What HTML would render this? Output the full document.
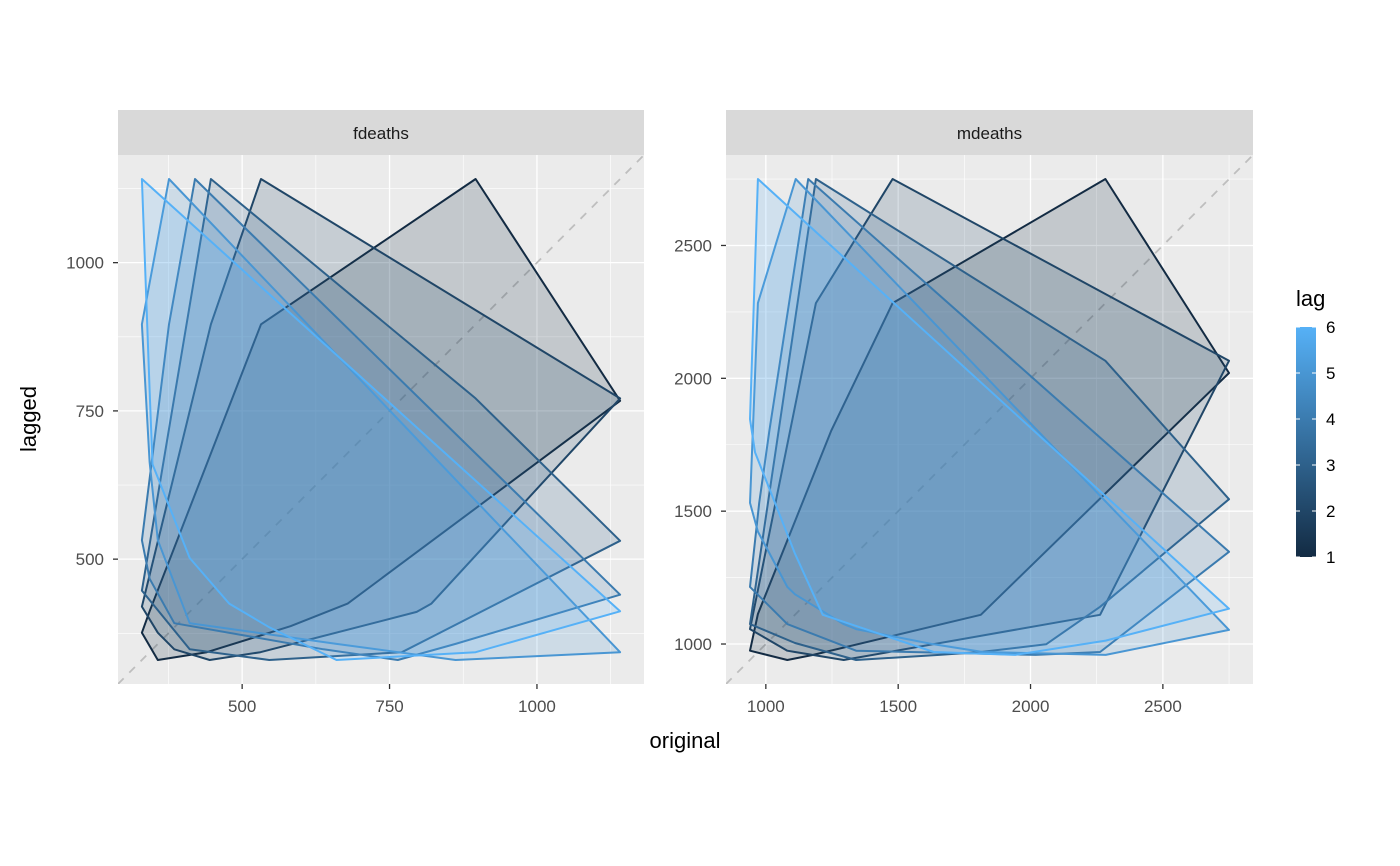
<!DOCTYPE html>
<html><head><meta charset="utf-8">
<style>
html,body{margin:0;padding:0;background:#fff;}
svg{display:block;font-family:"Liberation Sans",sans-serif;}
</style></head>
<body>
<svg id="chart" width="1400" height="866" viewBox="0 0 1400 866"></svg>
<script>
const fdeaths = [901,689,827,677,522,406,441,393,387,582,578,666,
830,752,785,664,467,438,421,412,343,440,531,771,
767,1141,896,532,447,420,376,330,357,445,546,764,
862,660,663,643,502,392,411,348,387,385,411,638,
796,853,737,546,530,446,431,362,387,430,425,679,
821,785,727,612,478,429,405,379,393,411,487,574];
const mdeaths = [2134,1863,1877,1877,1492,1249,1280,1131,1209,1492,1621,1846,
2103,2137,2153,1833,1403,1288,1186,1133,1053,1347,1545,2066,
2020,2750,2283,1479,1189,1160,1113,970,999,1208,1467,2059,
2240,1634,1722,1801,1246,1162,1087,1013,959,1179,1229,1655,
2019,2284,1942,1423,1340,1187,1098,1004,970,1140,1110,1812,
2263,1820,1846,1531,1215,1075,1056,975,940,1081,1294,1341];
const lags = [1,2,3,4,5,6];
const facetNames = ["fdeaths","mdeaths"];
const fTicks = [500,750,1000];
const fMinor = [375,625,875,1125];
const mTicks = [1000,1500,2000,2500];
const mMinor = [1250,1750,2250,2750];
const legendLabels = [1,2,3,4,5,6];

const NS="http://www.w3.org/2000/svg";
const svg=document.getElementById('chart');
function mk(tag,attrs,parent){const e=document.createElementNS(NS,tag);for(const k in attrs)e.setAttribute(k,attrs[k]);(parent||svg).appendChild(e);return e;}
function lagColor(l){const a=[19,43,67],b=[86,177,247];const t=(l-1)/5;return 'rgb('+a.map((v,i)=>Math.round(v+(b[i]-v)*t)).join(',')+')';}
function hull(pts){pts=pts.slice().sort((p,q)=>p[0]-q[0]||p[1]-q[1]);const cr=(o,a,b)=>(a[0]-o[0])*(b[1]-o[1])-(a[1]-o[1])*(b[0]-o[0]);
const lo=[];for(const p of pts){while(lo.length>=2&&cr(lo[lo.length-2],lo[lo.length-1],p)<=0)lo.pop();lo.push(p);}
const up=[];for(let i=pts.length-1;i>=0;i--){const p=pts[i];while(up.length>=2&&cr(up[up.length-2],up[up.length-1],p)<=0)up.pop();up.push(p);}
up.pop();lo.pop();return lo.concat(up);}

const T=155,B=684;
const panels=[{name:facetNames[0],data:fdeaths,x0:118,x1:644,ticks:fTicks,minor:fMinor,labX:104},
{name:facetNames[1],data:mdeaths,x0:726,x1:1253,ticks:mTicks,minor:mMinor,labX:712}];

panels.forEach((p,pi)=>{
  const mn=Math.min(...p.data),mx=Math.max(...p.data),ex=(mx-mn)*0.05;
  const lo=mn-ex,hi=mx+ex;
  const sx=v=>p.x0+(v-lo)/(hi-lo)*(p.x1-p.x0);
  const sy=v=>B-(v-lo)/(hi-lo)*(B-T);
  const g=mk('g',{});
  
  
  const cid='clip'+pi;
  const cp=mk('clipPath',{id:cid},g);mk('rect',{x:p.x0,y:T,width:p.x1-p.x0,height:B-T},cp);
  const bg=mk('rect',{x:p.x0,y:T,width:p.x1-p.x0,height:B-T,fill:'#EBEBEB'},g);
  
  
  p.minor.forEach(v=>{
    if(v>lo&&v<hi){mk('line',{x1:sx(v),x2:sx(v),y1:T,y2:B,stroke:'#fff','stroke-width':0.6},g);
    mk('line',{x1:p.x0,x2:p.x1,y1:sy(v),y2:sy(v),stroke:'#fff','stroke-width':0.6},g);}
  });
  p.ticks.forEach(v=>{
    mk('line',{x1:sx(v),x2:sx(v),y1:T,y2:B,stroke:'#fff','stroke-width':1.3},g);
    mk('line',{x1:p.x0,x2:p.x1,y1:sy(v),y2:sy(v),stroke:'#fff','stroke-width':1.3},g);
    mk('line',{x1:sx(v),x2:sx(v),y1:B,y2:B+5,stroke:'#333','stroke-width':1.3},g);
    mk('line',{x1:p.x0-5,x2:p.x0,y1:sy(v),y2:sy(v),stroke:'#333','stroke-width':1.3},g);
    const tx=mk('text',{x:sx(v),y:B+28,'text-anchor':'middle','font-size':17,fill:'#4D4D4D'},g);tx.textContent=v;
    
    
    const ty=mk('text',{x:p.labX,y:sy(v)+6,'text-anchor':'end','font-size':17,fill:'#4D4D4D'},g);ty.textContent=v;
    
    
  });
  const pg=mk('g',{'clip-path':'url(#'+cid+')'},g);
  const diag=mk('line',{x1:sx(lo),y1:sy(lo),x2:sx(hi),y2:sy(hi),stroke:'#BEBEBE','stroke-width':1.8,'stroke-dasharray':'8,8'},pg);
  
  
  lags.forEach(k=>{
    const pts=[];for(let t=k;t<p.data.length;t++)pts.push([p.data[t],p.data[t-k]]);
    const h=hull(pts);
    const c=lagColor(k);
    const poly=mk('polygon',{points:h.map(q=>sx(q[0]).toFixed(1)+','+sy(q[1]).toFixed(1)).join(' '),fill:c,'fill-opacity':0.18,stroke:c,'stroke-width':2,'stroke-linejoin':'round'},pg);
    
    
  });
  const st=mk('rect',{x:p.x0,y:110,width:p.x1-p.x0,height:45,fill:'#D9D9D9'},g);
  
  
  const sl=mk('text',{x:(p.x0+p.x1)/2,y:139,'text-anchor':'middle','font-size':17,fill:'#1A1A1A'},g);sl.textContent=p.name;
  
  
});

const xt=mk('text',{x:685,y:748,'text-anchor':'middle','font-size':22,fill:'#000'});xt.textContent='original';


const yt=mk('text',{x:0,y:0,'text-anchor':'middle','font-size':22,fill:'#000',transform:'translate(36,419) rotate(-90)'});yt.textContent='lagged';



const lg=mk('g',{});


const lt=mk('text',{x:1296,y:306,'font-size':22,fill:'#000'},lg);lt.textContent='lag';


const defs=mk('defs',{},lg);
const grad=mk('linearGradient',{id:'lg',x1:0,y1:1,x2:0,y2:0},defs);
mk('stop',{offset:'0','stop-color':lagColor(1)},grad);
mk('stop',{offset:'1','stop-color':lagColor(6)},grad);
const cb=mk('rect',{x:1296,y:327,width:20,height:230,fill:'url(#lg)'},lg);


legendLabels.forEach(v=>{
  const y=557-(v-1)/5*230;
  mk('line',{x1:1296,x2:1300,y1:y,y2:y,stroke:'#fff','stroke-width':1},lg);
  mk('line',{x1:1312,x2:1316,y1:y,y2:y,stroke:'#fff','stroke-width':1},lg);
  const t=mk('text',{x:1326,y:y+6,'font-size':17,fill:'#000'},lg);t.textContent=v;
  
  
});
</script>
</body></html>
